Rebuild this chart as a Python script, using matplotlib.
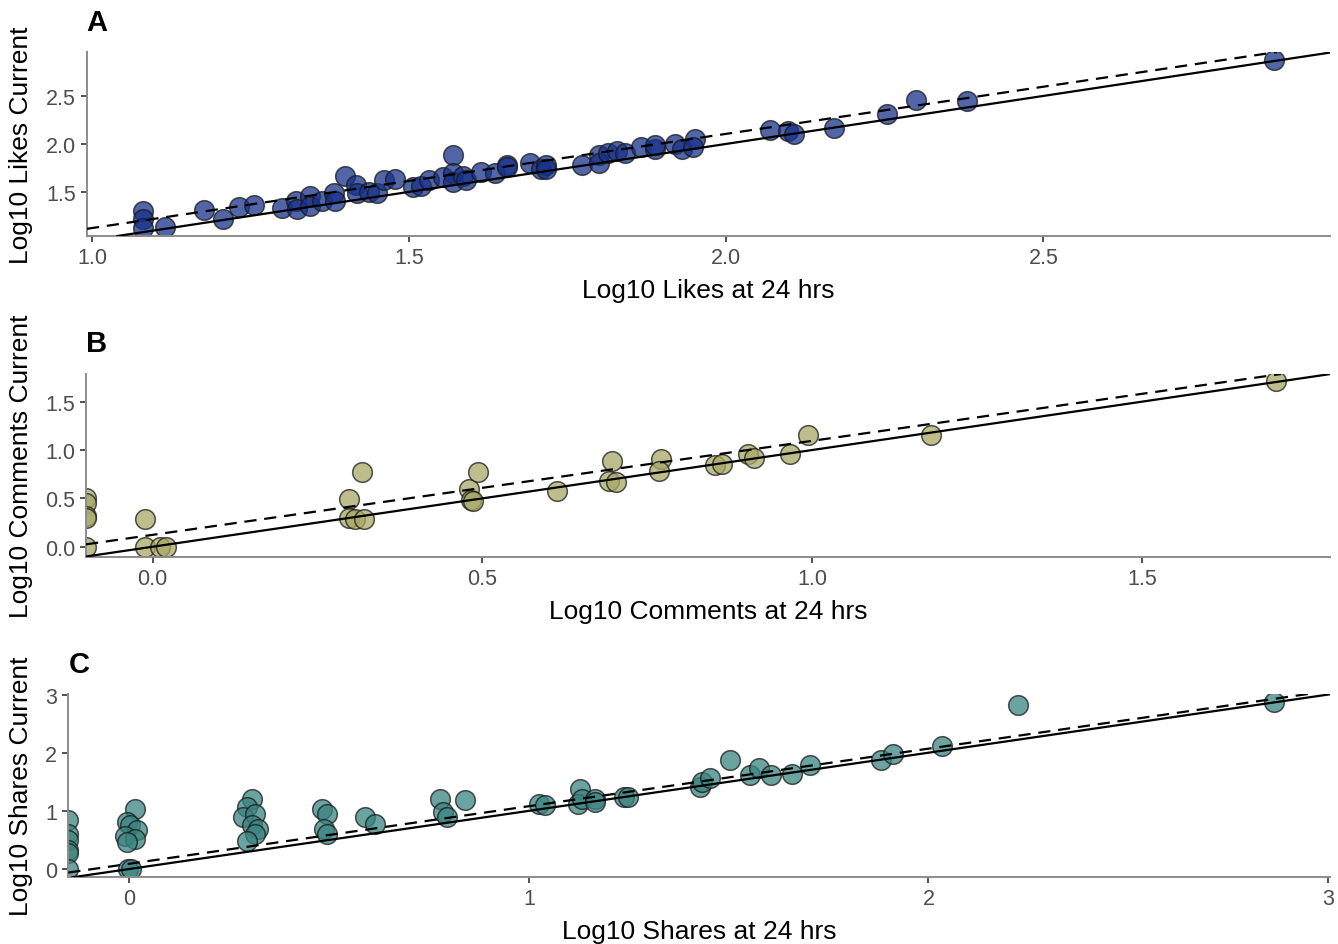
import numpy as np
import matplotlib
matplotlib.use('Agg')
import matplotlib.pyplot as plt

# Panel A: likes (log10)
likes_24 = [1.08, 1.08, 1.08, 1.115, 1.176, 1.206, 1.232, 1.255, 1.30, 1.322,
            1.323, 1.343, 1.344, 1.363, 1.381, 1.383, 1.399, 1.416, 1.417, 1.437,
            1.45, 1.461, 1.478, 1.506, 1.519, 1.532, 1.553, 1.569, 1.569, 1.569,
            1.585, 1.59, 1.614, 1.636, 1.654, 1.655, 1.69, 1.708, 1.716, 1.716,
            1.772, 1.80, 1.80, 1.813, 1.828, 1.841, 1.865, 1.887, 1.888, 1.919,
            1.93, 1.95, 1.947, 2.069, 2.098, 2.107, 2.17, 2.254, 2.299, 2.38, 2.863]
likes_now = [1.30, 1.22, 1.12, 1.13, 1.31, 1.22, 1.34, 1.36, 1.33, 1.41,
             1.32, 1.46, 1.35, 1.41, 1.49, 1.40, 1.67, 1.57, 1.49, 1.50,
             1.49, 1.62, 1.63, 1.55, 1.56, 1.62, 1.66, 1.88, 1.70, 1.60,
             1.67, 1.62, 1.71, 1.70, 1.78, 1.76, 1.80, 1.74, 1.78, 1.74,
             1.78, 1.88, 1.80, 1.91, 1.93, 1.90, 1.97, 1.95, 1.99, 2.00,
             1.95, 2.05, 1.97, 2.15, 2.13, 2.10, 2.17, 2.31, 2.46, 2.45, 2.875]

# Panel B: comments (log10, -inf = zero comments at 24 hrs)
comments_24 = [-np.inf, -np.inf, -np.inf, -np.inf, -np.inf,
               -0.012, -0.012, 0.011, 0.021,
               0.297, 0.318, 0.297, 0.307, 0.32,
               0.48, 0.493, 0.482, 0.486,
               0.613, 0.697, 0.692, 0.702,
               0.77, 0.767, 0.853, 0.863, 0.903, 0.911, 0.967, 0.994, 1.18, 1.703]
comments_now = [0.5, 0.45, 0.32, 0.30, 0.0,
                0.29, 0.0, 0.0, 0.0,
                0.49, 0.77, 0.30, 0.29, 0.29,
                0.60, 0.77, 0.48, 0.47,
                0.58, 0.89, 0.68, 0.67,
                0.91, 0.78, 0.85, 0.86, 0.96, 0.92, 0.96, 1.16, 1.16, 1.716]

# Panel C: shares (log10)
shares_24 = [-np.inf, -np.inf, -np.inf, -np.inf, -np.inf, -np.inf,
             0.014, -0.007, 0.002, 0.018, -0.011, 0.014, -0.007, -0.003, 0.005,
             0.306, 0.294, 0.285, 0.315, 0.306, 0.323, 0.315, 0.294,
             0.482, 0.494, 0.486, 0.494,
             0.59, 0.615,
             0.778, 0.786, 0.794, 0.84,
             1.026, 1.041, 1.128, 1.124, 1.132, 1.166, 1.166, 1.237, 1.249,
             1.429, 1.433, 1.452, 1.502, 1.554, 1.577, 1.605, 1.658, 1.704,
             1.881, 1.912, 2.033, 2.225, 2.865]
shares_now = [0.85, 0.60, 0.50, 0.32, 0.27, 0.0,
              1.03, 0.80, 0.75, 0.67, 0.575, 0.52, 0.46, 0.0, 0.0,
              1.20, 1.06, 0.89, 0.95, 0.75, 0.69, 0.60, 0.48,
              1.04, 0.95, 0.69, 0.60,
              0.89, 0.78,
              1.20, 0.98, 0.90, 1.18,
              1.12, 1.10, 1.38, 1.12, 1.20, 1.20, 1.15, 1.23, 1.23,
              1.41, 1.49, 1.56, 1.88, 1.61, 1.73, 1.61, 1.64, 1.79,
              1.88, 1.98, 2.12, 2.82, 2.88]

# dashed fit lines (intercept, slope)
fit_likes = (0.141, 0.982)
fit_comments = (0.123, 0.972)
fit_shares = (0.09, 0.99)

plt.rcParams['font.family'] = ['Liberation Sans', 'DejaVu Sans']

W, H = 1338, 945
fig = plt.figure(figsize=(W / 100, H / 100), dpi=100)


def px_axes(left, top, right, bottom):
    return fig.add_axes([left / W, 1 - bottom / H, (right - left) / W, (bottom - top) / H])


panels = [
    dict(box=(87, 53, 1330, 237), x=likes_24, y=likes_now, fit=fit_likes,
         fill='#17318a', xlim=(0.992, 2.952), ylim=(1.04, 2.958),
         xticks=[1.0, 1.5, 2.0, 2.5], yticks=[1.5, 2.0, 2.5], fmt='{:.1f}',
         xlabel='Log10 Likes at 24 hrs', ylabel='Log10 Likes Current',
         tag='A', tagpos=(97, 23)),
    dict(box=(86, 375, 1330, 557.7), x=comments_24, y=comments_now, fit=fit_comments,
         fill='#a8a866', xlim=(-0.101, 1.785), ylim=(-0.103, 1.786),
         xticks=[0.0, 0.5, 1.0, 1.5], yticks=[0.0, 0.5, 1.0, 1.5], fmt='{:.1f}',
         xlabel='Log10 Comments at 24 hrs', ylabel='Log10 Comments Current',
         tag='B', tagpos=(97, 344)),
    dict(box=(68.3, 695, 1330, 878.3), x=shares_24, y=shares_now, fit=fit_shares,
         fill='#3a8480', xlim=(-0.153, 3.005), ylim=(-0.143, 3.01),
         xticks=[0, 1, 2, 3], yticks=[0, 1, 2, 3], fmt='{:d}',
         xlabel='Log10 Shares at 24 hrs', ylabel='Log10 Shares Current',
         tag='C', tagpos=(79, 665)),
]

for p in panels:
    ax = px_axes(*p['box'])
    x = np.array(p['x'], dtype=float)
    y = np.array(p['y'], dtype=float)
    # -Inf values sit on the panel edge, as in ggplot
    x = np.where(np.isneginf(x), p['xlim'][0], x)

    ax.scatter(x, y, s=200, c=p['fill'], alpha=0.75, edgecolors='#1a1a1a',
               linewidths=1.1, zorder=2, clip_on=True)
    ax.axline((0, 0), slope=1, color='black', lw=1.6, zorder=3)
    b0, b1 = p['fit']
    ax.axline((0, b0), slope=b1, color='black', lw=1.6, ls=(0, (5.5, 3.5)), zorder=3)

    ax.set_xlim(*p['xlim'])
    ax.set_ylim(*p['ylim'])
    ax.set_xticks(p['xticks'])
    ax.set_yticks(p['yticks'])
    ax.set_xticklabels([p['fmt'].format(t) for t in p['xticks']])
    ax.set_yticklabels([p['fmt'].format(t) for t in p['yticks']])

    for side in ['top', 'right']:
        ax.spines[side].set_visible(False)
    for side in ['left', 'bottom']:
        ax.spines[side].set_color('#8c8c8c')
        ax.spines[side].set_linewidth(1.4)
    ax.tick_params(colors='#333333', labelcolor='#4d4d4d', labelsize=15.5,
                   length=4.5, width=1.2, pad=3.5)

    ax.set_xlabel(p['xlabel'], fontsize=19)
    ax.set_ylabel(p['ylabel'], fontsize=19)
    bw = p['box'][2] - p['box'][0]
    bh = p['box'][3] - p['box'][1]
    ax.xaxis.set_label_coords(0.5, -42 / bh)
    ax.yaxis.set_label_coords((33 - p['box'][0]) / bw, 0.5)

    fig.text(p['tagpos'][0] / W, 1 - p['tagpos'][1] / H, p['tag'], fontsize=21,
             fontweight='bold', ha='center', va='center')

fig.savefig('out.png', dpi=100)
